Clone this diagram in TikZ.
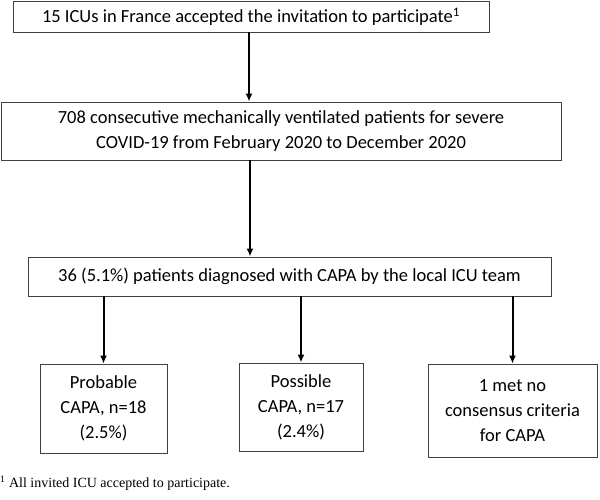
\documentclass[tikz,border=0pt]{standalone}
\usepackage{fontspec}
\setmainfont{Carlito}
\newfontfamily\notefont{Liberation Serif}
\usetikzlibrary{arrows.meta, positioning, calc}

\begin{document}
\begin{tikzpicture}[x=1pt, y=-1pt,
    box/.style={draw=black!75, line width=0.9pt, align=center, inner sep=2pt, font=\fontsize{18.5}{25}\selectfont},
    arr/.style={-{Latex[length=8pt, width=7pt]}, line width=2pt}]
% Frame
\useasboundingbox (0,0) rectangle (600,499);

% Boxes
\node[box, minimum width=476, minimum height=31] (icus) at (251,16.5)
    {15 ICUs in France accepted the invitation to participate\textsuperscript{1}};
\node[box, minimum width=560, minimum height=58] (pts) at (281,131)
    {708 consecutive mechanically ventilated patients for severe\\COVID-19 from February 2020 to December 2020};
\node[box, minimum width=523, minimum height=39] (capa) at (289.5,276.5)
    {36 (5.1\%) patients diagnosed with CAPA by the local ICU team};

\node[box, minimum width=127, minimum height=89] (prob) at (103.5,408.5)
    {Probable\\CAPA, n=18\\(2.5\%)};
\node[box, minimum width=124, minimum height=88] (poss) at (301,407)
    {Possible\\CAPA, n=17\\(2.4\%)};
\node[box, minimum width=169, minimum height=93] (none) at (512.5,410.5)
    {1 met no\\consensus criteria\\for CAPA};

% Arrows
\draw[arr] (icus.south -| 249,0) -- (pts.north -| 249,0);
\draw[arr] (pts.south -| 250,0) -- (capa.north -| 250,0);
\draw[arr] (capa.south -| prob.north) -- (prob.north);
\draw[arr] (capa.south -| poss.north) -- (poss.north);
\draw[arr] (capa.south -| none.north) -- (none.north);

% Footnote
\node[anchor=west, inner sep=0pt, font=\notefont\fontsize{14}{16}\selectfont] (note) at (0,483)
    {\textsuperscript{1} All invited ICU accepted to participate.};
\end{tikzpicture}
\end{document}
